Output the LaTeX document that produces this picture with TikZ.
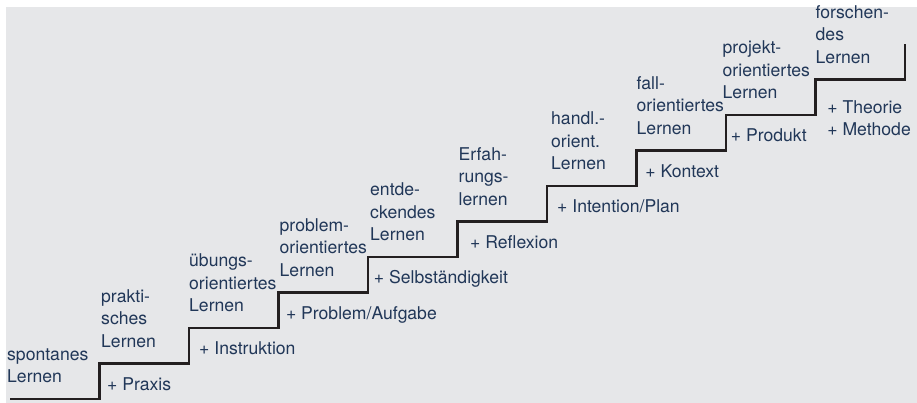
\documentclass[tikz,border=0pt]{standalone}
\usepackage{fontspec}
\setmainfont{TeX Gyre Heros}
\usetikzlibrary{positioning}
\definecolor{stepgray}{RGB}{230,231,233}
\definecolor{stepblue}{RGB}{33,55,88}
\definecolor{stepline}{RGB}{35,31,32}
\tikzset{
  stair/.style = {draw=stepline, line width=2.6pt},
  level/.style = {inner sep=0pt, align=left, text=stepblue,
                  font=\fontsize{17.6}{22.5}\selectfont},
  gain/.style  = {inner sep=0pt, align=left, text=stepblue,
                  font=\fontsize{17.6}{22.5}\selectfont}
}

\begin{document}
\begin{tikzpicture}[x=1pt, y=1pt]
\useasboundingbox (0,0) rectangle (917,403);
\fill[stepgray] (6,0) rectangle (917,396);

% Ecken der Treppe
\foreach \value in {1,...,10}
  \coordinate (s\value) at ({10+(\value-1)*89.5},{4+(\value-1)*35.5});
\coordinate (top) at (905,359);

\draw[stair] (s1) -| (s2) -| (s3) -| (s4) -| (s5) -| (s6) -| (s7)
  -| (s8) -| (s9) -| (s10) -| (top);

% Lernformen auf den Stufen
\node[level, above right=16pt and -3pt of s1] (l1) {spontanes\\Lernen};
\node[level, above right=16pt and 1.5pt of s2] (l2) {prakti-\\sches\\Lernen};
\node[level, above right=16pt and 0pt of s3] (l3) {übungs-\\orientiertes\\Lernen};
\node[level, above right=16pt and 1pt of s4] (l4) {problem-\\orientiertes\\Lernen};
\node[level, above right=16pt and 2pt of s5] (l5) {entde-\\ckendes\\Lernen};
\node[level, above right=16pt and 1pt of s6] (l6) {Erfah-\\rungs-\\lernen};
\node[level, above right=16pt and 4pt of s7] (l7) {handl.-\\orient.\\Lernen};
\node[level, above right=16pt and 0pt of s8] (l8) {fall-\\orientiertes\\Lernen};
\node[level, above right=16pt and -3.5pt of s9] (l9) {projekt-\\orientiertes\\Lernen};
\node[level, above right=16pt and 0pt of s10] (l10) {forschen-\\des\\Lernen};

% Zugewinne unter den Stufen
\node[gain, below right=27pt and 7.5pt of s2, anchor=base west] (g1) {+ Praxis};
\node[gain, below right=27pt and 10pt of s3, anchor=base west] (g2) {+ Instruktion};
\node[gain, below right=27pt and 7.3pt of s4, anchor=base west] (g3) {+ Problem/Aufgabe};
\node[gain, below right=27pt and 5.7pt of s5, anchor=base west] (g4) {+ Selbständigkeit};
\node[gain, below right=27pt and 12.5pt of s6, anchor=base west] (g5) {+ Reflexion};
\node[gain, below right=27pt and 10pt of s7, anchor=base west] (g6) {+ Intention/Plan};
\node[gain, below right=27pt and 8.7pt of s8, anchor=base west] (g7) {+ Kontext};
\node[gain, below right=27pt and 4.7pt of s9, anchor=base west] (g8) {+ Produkt};
\node[gain, below right=20.5pt and 11.7pt of s10] (g9) {+ Theorie\\+ Methode};
\end{tikzpicture}
\end{document}
